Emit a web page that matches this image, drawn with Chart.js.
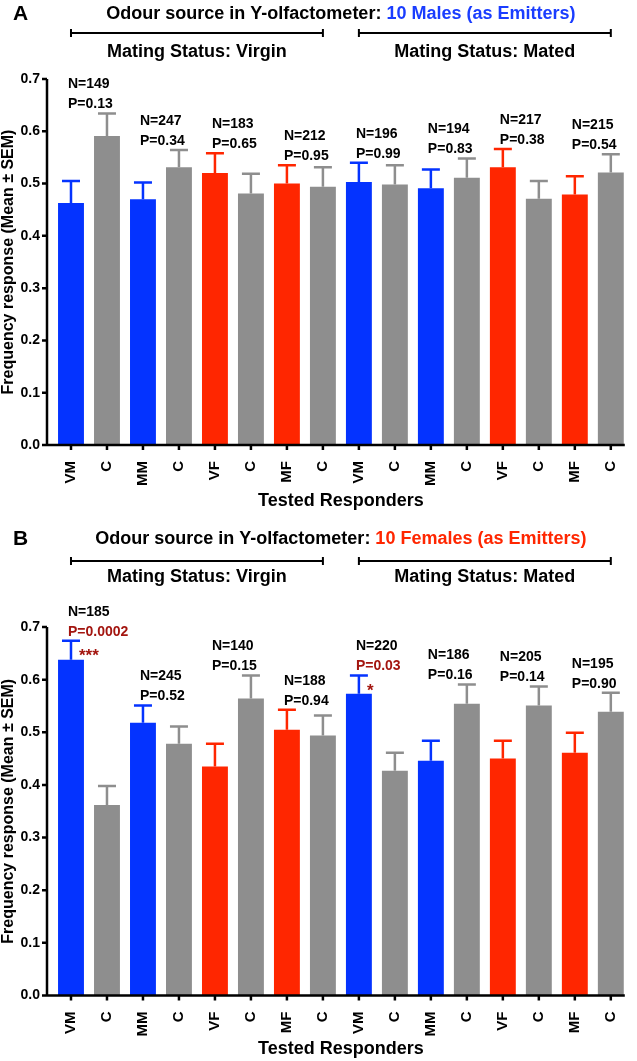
<!DOCTYPE html>
<html>
<head>
<meta charset="utf-8">
<script src="https://cdn.jsdelivr.net/npm/chart.js@4.4.1/dist/chart.umd.min.js"></script>
<style>
  body { margin: 0; background: #fff; }
  .panel { position: absolute; left: 0; width: 637px; }
  #panelA { top: 0; height: 520px; }
  #panelB { top: 520px; height: 541px; }
</style>
</head>
<body>
<div class="panel" id="panelA"><canvas id="chartA"></canvas></div>
<div class="panel" id="panelB"><canvas id="chartB"></canvas></div>
<script>
// data
const responders = ["VM", "C", "MM", "C", "VF", "C", "MF", "C", "VM", "C", "MM", "C", "VF", "C", "MF", "C"];
const y_ticks = [0, 0.1, 0.2, 0.3, 0.4, 0.5, 0.6, 0.7];

const males_mean = [0.463, 0.591, 0.470, 0.531, 0.520, 0.481, 0.500, 0.494, 0.503, 0.498, 0.491, 0.511, 0.531, 0.471, 0.479, 0.521];
const males_sem = [0.042, 0.043, 0.032, 0.033, 0.038, 0.038, 0.035, 0.037, 0.037, 0.037, 0.036, 0.037, 0.035, 0.034, 0.035, 0.035];
const males_n = [149, 247, 183, 212, 196, 194, 217, 215];
const males_p = ["0.13", "0.34", "0.65", "0.95", "0.99", "0.83", "0.38", "0.54"];
const males_stars = ["", "", "", "", "", "", "", ""];

const females_mean = [0.638, 0.362, 0.518, 0.478, 0.435, 0.564, 0.505, 0.494, 0.573, 0.427, 0.446, 0.554, 0.450, 0.551, 0.461, 0.539];
const females_sem = [0.036, 0.036, 0.033, 0.033, 0.043, 0.044, 0.038, 0.038, 0.035, 0.034, 0.038, 0.037, 0.034, 0.036, 0.038, 0.036];
const females_n = [185, 245, 140, 188, 220, 186, 205, 195];
const females_p = ["0.0002", "0.52", "0.15", "0.94", "0.03", "0.16", "0.14", "0.90"];
const females_stars = ["***", "", "", "", "*", "", "", ""];

const FONT = "'Liberation Sans', Arial, Helvetica, sans-serif";
const BLUE = '#0433ff';
const RED = '#ff2600';
const GREY = '#8e8e8e';
const DARKRED = '#a3150f';

function colour_for(label) {
    if (label == "VM" || label == "MM") return BLUE;
    if (label == "VF" || label == "MF") return RED;
    return GREY;
}

const decor = {
    id: 'decor',
    afterDatasetsDraw(chart) {
        const o = chart.options.plugins.decor;
        const ctx = chart.ctx;
        const ys = chart.scales.y;
        const meta = chart.getDatasetMeta(0);
        ctx.save();
        // error bars (upper half only)
        meta.data.forEach((bar, i) => {
            const top = ys.getPixelForValue(o.mean[i] + o.sem[i]);
            ctx.strokeStyle = colour_for(responders[i]);
            ctx.lineWidth = 2.5;
            ctx.beginPath();
            ctx.moveTo(bar.x, bar.y);
            ctx.lineTo(bar.x, top);
            ctx.moveTo(bar.x - 9, top);
            ctx.lineTo(bar.x + 9, top);
            ctx.stroke();
        });
        ctx.restore();
    },
    afterDraw(chart) {
        const o = chart.options.plugins.decor;
        const ctx = chart.ctx;
        const xs = chart.scales.x, ys = chart.scales.y, a = chart.chartArea;
        const axisX = a.left - 6;
        ctx.save();
        // axes
        ctx.strokeStyle = '#000';
        ctx.lineWidth = 2.5;
        ctx.beginPath();
        ctx.moveTo(axisX, a.top);
        ctx.lineTo(axisX, a.bottom);
        ctx.moveTo(axisX - 1, a.bottom);
        ctx.lineTo(a.right - 4, a.bottom);
        y_ticks.forEach(v => {
            const py = ys.getPixelForValue(v);
            ctx.moveTo(axisX - 5, py);
            ctx.lineTo(axisX, py);
        });
        responders.forEach((r, i) => {
            const px = xs.getPixelForValue(i);
            ctx.moveTo(px, a.bottom);
            ctx.lineTo(px, a.bottom + 5);
        });
        ctx.stroke();

        // N / P annotations per pair
        ctx.textBaseline = 'middle';
        ctx.textAlign = 'left';
        for (let k = 0; k < o.n.length; k++) {
            const i = 2 * k;
            const cx = (xs.getPixelForValue(i) + xs.getPixelForValue(i + 1)) / 2;
            const cap = Math.min(ys.getPixelForValue(o.mean[i] + o.sem[i]), ys.getPixelForValue(o.mean[i + 1] + o.sem[i + 1]));
            const py = cap - 9;
            ctx.font = 'bold 14px ' + FONT;
            ctx.fillStyle = '#000';
            ctx.fillText('N=' + o.n[k], cx - 21, py - 20);
            ctx.fillStyle = o.stars[k] ? DARKRED : '#000';
            ctx.fillText('P=' + o.p[k], cx - 21, py);
            if (o.stars[k]) {
                const bx = xs.getPixelForValue(i);
                const by = ys.getPixelForValue(o.mean[i] + o.sem[i]);
                ctx.font = 'bold 17px ' + FONT;
                ctx.fillText(o.stars[k], bx + 8, by + 16);
            }
        }

        // panel letter
        ctx.fillStyle = '#000';
        ctx.font = 'bold 21px ' + FONT;
        ctx.fillText(o.letter, 13, o.titleY);

        // title with coloured part
        ctx.font = 'bold 18px ' + FONT;
        const w1 = ctx.measureText(o.title[0]).width;
        const w2 = ctx.measureText(o.title[1]).width;
        const tx = (a.left + a.right) / 2 - (w1 + w2) / 2;
        ctx.fillStyle = '#000';
        ctx.fillText(o.title[0], tx, o.titleY);
        ctx.fillStyle = o.titleColour;
        ctx.fillText(o.title[1], tx + w1, o.titleY);

        // brackets for mating status
        const groups = [[0, 7, 'Mating Status: Virgin'], [8, 15, 'Mating Status: Mated']];
        ctx.strokeStyle = '#000';
        ctx.lineWidth = 2;
        ctx.textAlign = 'center';
        ctx.fillStyle = '#000';
        groups.forEach(g => {
            const x1 = xs.getPixelForValue(g[0]), x2 = xs.getPixelForValue(g[1]);
            ctx.beginPath();
            ctx.moveTo(x1, o.bracketY);
            ctx.lineTo(x2, o.bracketY);
            ctx.moveTo(x1, o.bracketY - 4);
            ctx.lineTo(x1, o.bracketY + 4);
            ctx.moveTo(x2, o.bracketY - 4);
            ctx.lineTo(x2, o.bracketY + 4);
            ctx.stroke();
            ctx.fillText(g[2], (x1 + x2) / 2, o.statusY);
        });

        // axis titles
        ctx.fillText('Tested Responders', (a.left + a.right) / 2, o.xTitleY);
        ctx.translate(9, (a.top + a.bottom) / 2);
        ctx.rotate(-Math.PI / 2);
        ctx.font = 'bold 16px ' + FONT;
        ctx.fillText('Frequency response (Mean \u00b1 SEM)', 0, 0);
        ctx.restore();
    }
};

function make_chart(id, mean, sem, n, p, stars, lay) {
    const ctx = document.getElementById(id);
    new Chart(ctx, {
        type: 'bar',
        data: {
            labels: responders,
            datasets: [{
                data: mean,
                backgroundColor: responders.map(colour_for),
                barPercentage: 0.72,
                categoryPercentage: 1.0
            }]
        },
        options: {
            responsive: true,
            maintainAspectRatio: false,
            animation: { duration: 0 },
            layout: { padding: { top: lay.top, left: 0, right: 6, bottom: 0 } },
            plugins: {
                legend: { display: false },
                tooltip: { enabled: false },
                decor: {
                    mean: mean, sem: sem, n: n, p: p, stars: stars,
                    letter: lay.letter, title: lay.title, titleColour: lay.titleColour,
                    titleY: lay.titleY, bracketY: lay.bracketY, statusY: lay.statusY, xTitleY: lay.xTitleY
                }
            },
            scales: {
                x: {
                    grid: { display: false },
                    border: { display: false },
                    ticks: {
                        autoSkip: false, minRotation: 90, maxRotation: 90, padding: 8,
                        color: '#000', font: { family: FONT, size: 15, weight: 'bold' }
                    },
                    afterFit: s => { s.height = lay.xHeight; }
                },
                y: {
                    min: 0, max: 0.7,
                    grid: { display: false },
                    border: { display: false },
                    afterBuildTicks: s => { s.ticks = y_ticks.map(v => ({ value: v })); },
                    ticks: {
                        padding: 5, color: '#000',
                        font: { family: FONT, size: 14, weight: 'bold' },
                        callback: v => v.toFixed(1)
                    },
                    afterFit: s => { s.width = 53; }
                }
            }
        },
        plugins: [decor]
    });
}

make_chart('chartA', males_mean, males_sem, males_n, males_p, males_stars, {
    top: 79, xHeight: 75, letter: 'A',
    title: ['Odour source in Y-olfactometer: ', '10 Males (as Emitters)'], titleColour: '#1a3dff',
    titleY: 14, bracketY: 33, statusY: 52, xTitleY: 501
});
make_chart('chartB', females_mean, females_sem, females_n, females_p, females_stars, {
    top: 107, xHeight: 65.5, letter: 'B',
    title: ['Odour source in Y-olfactometer: ', '10 Females (as Emitters)'], titleColour: RED,
    titleY: 19, bracketY: 41, statusY: 57, xTitleY: 529
});
</script>
</body>
</html>
